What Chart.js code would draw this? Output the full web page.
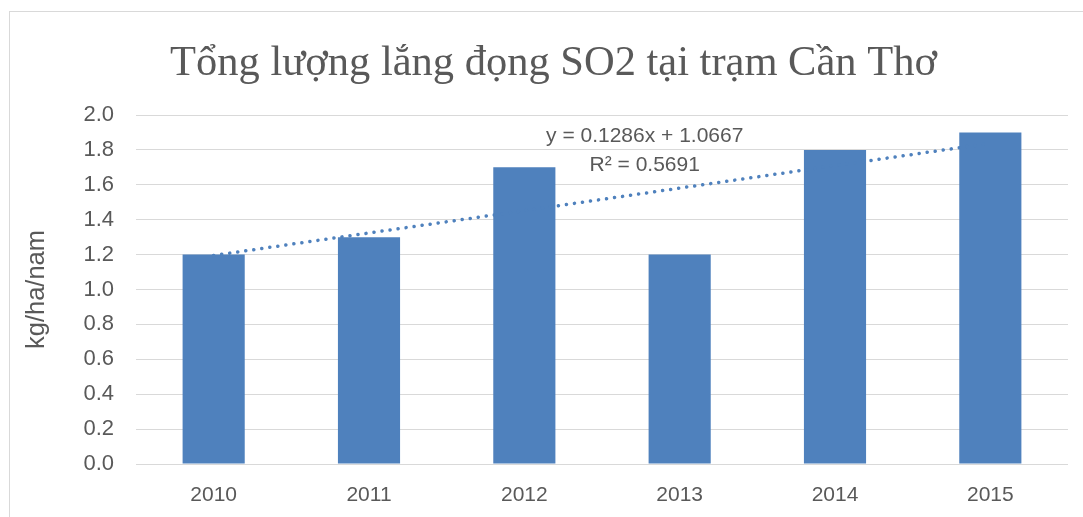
<!DOCTYPE html>
<html>
<head>
<meta charset="utf-8">
<script src="https://cdn.jsdelivr.net/npm/chart.js@4.4.1/dist/chart.umd.min.js"></script>
<style>
  html, body { margin: 0; padding: 0; background: #ffffff; overflow: hidden; }
  #frame { position: absolute; left: 9px; top: 11px; width: 1100px; height: 540px; border: 1px solid #d9d9d9; box-sizing: border-box; }
  #wrap { position: absolute; left: 0; top: 0; width: 1083px; height: 517px; }
</style>
</head>
<body>
<div id="frame"></div>
<div id="wrap"><canvas id="c" width="1083" height="517"></canvas></div>
<script>
const categories = ['2010', '2011', '2012', '2013', '2014', '2015'];
const so2Values = [1.2, 1.3, 1.7, 1.2, 1.8, 1.9];
const trendValues = [1.195, 1.324, 1.452, 1.581, 1.710, 1.838];
const yTicks = [0.0, 0.2, 0.4, 0.6, 0.8, 1.0, 1.2, 1.4, 1.6, 1.8, 2.0];
const trendLabels = ['y = 0.1286x + 1.0667', 'R² = 0.5691'];

const titleText = 'Tổng lượng lắng đọng SO2 tại trạm Cần Thơ';
const yAxisTitle = 'kg/ha/nam';

const BLUE = '#4F81BD';
const TEXT = '#595959';
const GRID = '#d9d9d9';
const SANS = '"Liberation Sans", Arial, sans-serif';

const trendLabelPlugin = {
  id: 'trendLabel',
  afterDatasetsDraw(chart) {
    const { ctx, scales } = chart;
    const x = scales.x.getPixelForValue(2.775);
    const y1 = scales.y.getPixelForValue(1.88);
    const y2 = scales.y.getPixelForValue(1.714);
    ctx.save();
    ctx.fillStyle = TEXT;
    ctx.font = '21px ' + SANS;
    ctx.textAlign = 'center';
    ctx.textBaseline = 'middle';
    ctx.fillText(trendLabels[0], x, y1);
    ctx.fillText(trendLabels[1], x, y2);
    ctx.restore();
  }
};

new Chart(document.getElementById('c'), {
  data: {
    labels: categories,
    datasets: [
      {
        type: 'line',
        label: 'Trend',
        data: trendValues,
        borderColor: BLUE,
        borderWidth: 3.5,
        borderDash: [0.1, 8],
        borderCapStyle: 'round',
        pointRadius: 0,
        fill: false,
        tension: 0,
        order: 0
      },
      {
        type: 'bar',
        label: 'SO2',
        data: so2Values,
        backgroundColor: BLUE,
        borderWidth: 0,
        barPercentage: 0.4,
        categoryPercentage: 1.0,
        order: 1
      }
    ]
  },
  options: {
    responsive: false,
    animation: false,
    devicePixelRatio: 1,
    layout: { padding: { left: 39, right: 15, top: 38, bottom: 10 } },
    plugins: {
      legend: { display: false },
      tooltip: { enabled: false },
      title: {
        display: true,
        text: titleText,
        color: TEXT,
        font: { family: '"Liberation Serif", "Times New Roman", serif', size: 42.5, weight: 'normal' },
        padding: { top: 0, bottom: 26 }
      }
    },
    scales: {
      x: {
        afterFit: (s) => { s.height = 43; },
        grid: { display: false, drawTicks: false },
        border: { display: false },
        ticks: { color: TEXT, font: { family: SANS, size: 21 }, padding: 19 }
      },
      y: {
        min: 0,
        max: 2.0,
        afterBuildTicks: (s) => { s.ticks = yTicks.map(v => ({ value: v })); },
        afterFit: (s) => { s.width = 97; },
        grid: { color: GRID, lineWidth: 1, drawTicks: false },
        border: { display: false },
        ticks: {
          color: TEXT,
          font: { family: SANS, size: 22 },
          padding: 22,
          callback: (v) => Number(v).toFixed(1)
        },
        title: {
          display: true,
          text: yAxisTitle,
          color: TEXT,
          font: { family: SANS, size: 25.5 },
          padding: { top: -17, bottom: 0 }
        }
      }
    }
  },
  plugins: [trendLabelPlugin]
});
</script>
</body>
</html>
